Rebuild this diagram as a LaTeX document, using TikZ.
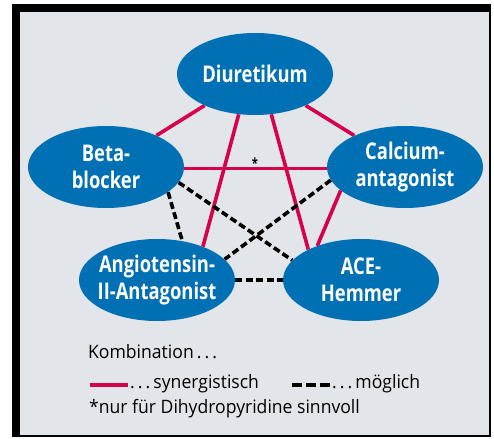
\documentclass[tikz,border=0pt]{standalone}
\usepackage{fontspec}
\setmainfont{Open Sans}[FakeStretch=0.8]
\newfontfamily\legendfont{Open Sans}[FakeStretch=0.95]
\usetikzlibrary{shapes.geometric,backgrounds}
\definecolor{panelgrey}{RGB}{226,229,234}
\definecolor{pillblue}{RGB}{0,112,181}
\definecolor{synred}{RGB}{215,0,75}

\begin{document}
\begin{tikzpicture}[x=1pt,y=-1pt,
    drug/.style={ellipse, fill=pillblue, minimum width=156pt, minimum height=82pt,
        inner xsep=-12pt, inner ysep=0pt, align=center, text=white,
        font=\fontsize{23}{27}\selectfont\bfseries},
    syn/.style={synred, line width=3.6pt},
    poss/.style={black, line width=3.6pt, dash pattern=on 7pt off 3.5pt},
    legend/.style={anchor=base west, inner sep=0pt, font=\legendfont\fontsize{18.5}{21}\selectfont}]
    \useasboundingbox (0,0) rectangle (494,438);

    % Frame
    \begin{scope}[on background layer]
        \fill[black] (12,4) rectangle (491,437);
        \fill[panelgrey] (20,12) rectangle (489,435);
    \end{scope}

    % Drug classes
    \node[drug] (diu) at (255,74) {Diuretikum};
    \node[drug] (beta) at (106,167) {Beta-\\blocker};
    \node[drug] (calc) at (405,167) {Calcium-\\antagonist};
    \node[drug] (ang) at (157,280) {Angiotensin-\\II-Antagonist};
    \node[drug] (ace) at (361,280) {ACE-\\Hemmer};

    % Combinations
    \begin{scope}[on background layer]
        \draw[syn] (diu) -- (beta);
        \draw[syn] (diu) -- (calc);
        \draw[syn] (diu.248) -- (ang.36);
        \draw[syn] (diu.292) -- (ace.150);
        \draw[syn] (beta.-1.5) -- (calc.181.5);
        \draw[syn] (calc.200) -- (ace.142);
        \draw[poss] (beta.-22) -- (ang.57);
        \draw[poss] (beta.-12) -- (ace.164);
        \draw[poss] (calc.190) -- (ang.17);
        \draw[poss] (ang) -- (ace);
    \end{scope}
    \node[anchor=base, inner sep=0pt, font=\fontsize{14}{14}\selectfont\bfseries] (star) at (255,168) {*};

    % Legend
    \node[legend] (komb) at (88,358) {Kombination\,.\,.\,.};
    \coordinate (synA) at (90,385);
    \coordinate (synB) at (128,385);
    \draw[syn] (synA) -- (synB);
    \node[legend] (synlabel) at (130,388) {.\,.\,.\,synergistisch};
    \coordinate (possA) at (292,385);
    \coordinate (possB) at (330,385);
    \draw[poss, dash pattern=on 10pt off 4pt] (possA) -- (possB);
    \node[legend] (posslabel) at (332,388) {.\,.\,.\,möglich};
    \node[legend] (note) at (89,413) {*nur für Dihydropyridine sinnvoll};
\end{tikzpicture}
\end{document}
